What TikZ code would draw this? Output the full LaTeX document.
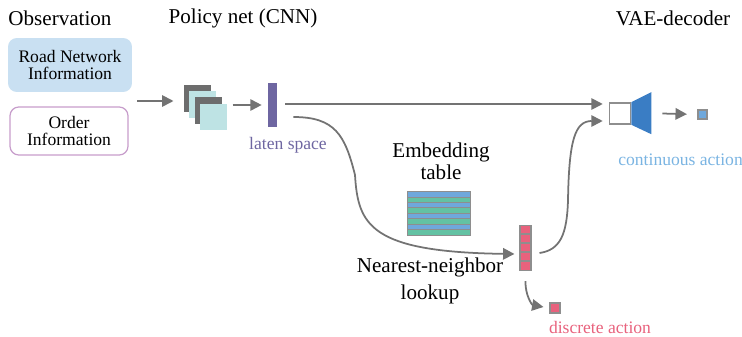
\documentclass[tikz,border=0pt]{standalone}
\usepackage{fontspec}
\setmainfont{Liberation Serif}
\usetikzlibrary{arrows.meta,positioning,calc}
\definecolor{roadblue}{HTML}{C9E0F2}
\definecolor{orderpink}{HTML}{C79DCB}
\definecolor{cnngray}{HTML}{6D6D6D}
\definecolor{cnncyan}{HTML}{BEE3E4}
\definecolor{latpurple}{HTML}{6E66A1}
\definecolor{arrgray}{HTML}{737373}
\definecolor{boxgray}{HTML}{8E8E8E}
\definecolor{tblue}{HTML}{6FA8DC}
\definecolor{tgreen}{HTML}{63C2A3}
\definecolor{vecred}{HTML}{E8627D}
\definecolor{decblue}{HTML}{3A7DC4}
\definecolor{contblue}{HTML}{7AB4E2}

\begin{document}
\begin{tikzpicture}[
  x=0.02cm, y=-0.02cm,
  >={Triangle[length=6.5pt,width=6.5pt]},
  title/.style={font=\fontsize{12}{13}\selectfont},
  obsbox/.style={rounded corners=5pt, minimum width=2.48cm, minimum height=1.08cm, align=center, font=\fontsize{10}{9.8}\selectfont},
  fmap/.style={minimum size=0.54cm, inner sep=0pt},
  smalltxt/.style={font=\fontsize{10}{11}\selectfont},
  lbl/.style={align=center, font=\fontsize{12}{12.5}\selectfont},
  cell/.style={draw=boxgray, line width=0.6pt, inner sep=0pt},
  arr/.style={->, line width=1pt, color=arrgray},
]
\useasboundingbox (0,0) rectangle (742,337);

\node[title] (obs) at (60,18) {Observation};
\node[title] (pol) at (243,18) {Policy net (CNN)};
\node[title] (vae) at (673,18) {VAE-decoder};

\node[obsbox, fill=roadblue] (road) at (70,65) {Road Network\\Information};
\node[obsbox, draw=orderpink, line width=0.7pt, minimum width=2.36cm, minimum height=0.96cm] (order) at (69,131) {Order\\Information};

% feature maps
\node[fmap, fill=cnngray] (c1) at (197,99) {};
\node[fmap, fill=cnncyan] (c2) at (202.5,105) {};
\node[fmap, fill=cnngray] (c3) at (208,111) {};
\node[fmap, fill=cnncyan] (c4) at (213.5,117) {};

\coordinate (obsout) at (137,101);
\draw[arr, shorten >=5.5pt] (obsout) -- (obsout -| c1.west);

\node[fill=latpurple, minimum width=0.18cm, minimum height=0.88cm, inner sep=0pt] (lat) at (272.5,105) {};
\node[smalltxt, text=latpurple] (latlbl) at (288,145) {laten space};
\draw[arr, shorten <=3pt, shorten >=3.4pt] (c4.east |- lat) -- (lat.west);

% decoder
\node[draw=boxgray, line width=0.9pt, fill=white, minimum size=0.42cm, inner sep=0pt] (dec) at (620,113.5) {};
\fill[decblue] (dec.north east) -- ++(20,-10) -- ++(0,42) -- (dec.south east) -- cycle;
\coordinate (vaeout) at ($(dec.east)+(31,0)$);
\node[cell, fill=tblue, minimum size=0.18cm] (cont) at (702.5,114.5) {};
\draw[arr, shorten >=6pt] (vaeout) -- (cont.west);
\node[anchor=west, inner sep=0pt, text=contblue, smalltxt] (contlbl) at (618,160) {continuous action};

\coordinate (latout) at ($(lat.east)+(8,-1)$);
\draw[arr, shorten >=3.4pt] (latout) -- (latout -| dec.west);

% embedding table
\node[lbl] (emblbl) at (441,161) {Embedding\\table};
\node[minimum width=1.26cm, minimum height=0.86cm, inner sep=0pt] (emb) at (439,213.5) {};
\foreach \i/\c in {0/tblue,1/tgreen,2/tblue,3/tgreen,4/tblue,5/tgreen,6/tblue,7/tgreen}
  \fill[\c] ($(emb.north west)+(0,\i*5.375)$) rectangle ++(63,5.375);
\foreach \i in {1,...,7}
  \draw[boxgray, line width=0.45pt] ($(emb.north west)+(0,\i*5.375)$) -- ++(63,0);
\draw[boxgray, line width=0.6pt] (emb.north west) rectangle (emb.south east);

\node[align=center, font=\fontsize{12}{15}\selectfont] (nnlbl) at (430,281) {Nearest-neighbor\\lookup};

% discrete code
\node[cell, fill=vecred, minimum width=0.22cm, minimum height=0.9cm] (vec) at (525.5,248) {};
\foreach \k in {1,...,4}
  \draw[boxgray, line width=0.6pt] ($(vec.north west)+(0,\k*9)$) -- ++(11,0);

\coordinate (latlow) at ($(lat.east)+(16,12)$);
\coordinate (vecin) at ($(vec.west)+(-5,6)$);
\draw[arr] (latlow) .. controls (335,117) and (345,135) .. (355,175) .. controls (358,225) and (370,252) .. (vecin);

\coordinate (vecout) at ($(vec.east)+(8,5)$);
\coordinate (decin) at ($(dec.west)+(-6,7.5)$);
\draw[arr] (vecout) .. controls (560,250) and (567,235) .. (568,200) .. controls (569,140) and (575,121) .. (decin);

\node[cell, fill=vecred, minimum size=0.2cm] (disc) at (555,308) {};
\coordinate (vecdown) at ($(vec.south)+(0,10)$);
\coordinate (discin) at ($(disc.west)+(-6,-1)$);
\draw[arr] (vecdown) .. controls (525,295) and (532,305) .. (discin);
\node[smalltxt, text=vecred] (disclbl) at (600,327) {discrete action};

\end{tikzpicture}
\end{document}
